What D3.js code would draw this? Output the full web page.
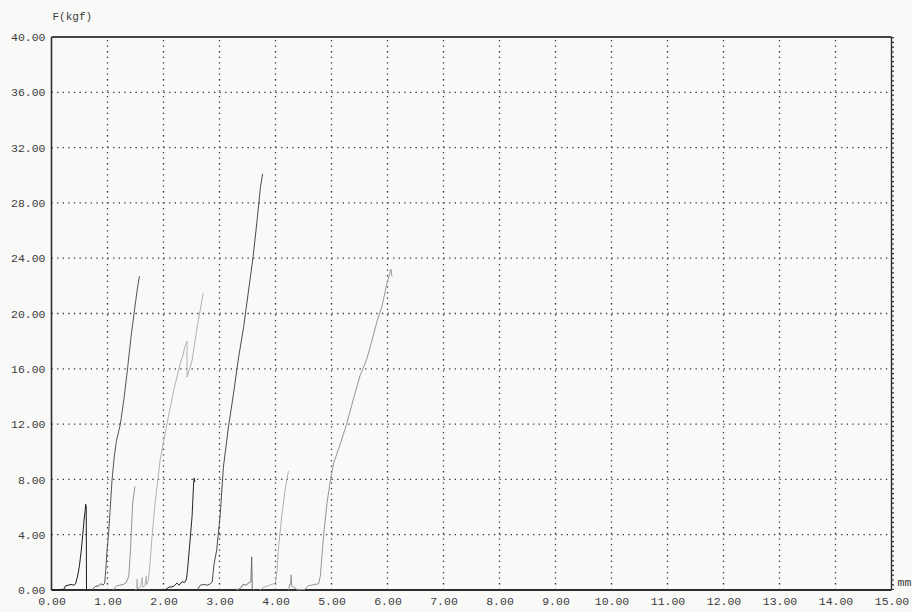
<!DOCTYPE html>
<html>
<head>
<meta charset="utf-8">
<script src="https://cdn.jsdelivr.net/npm/d3@7"></script>
<style>
  html, body { margin: 0; padding: 0; background: #f9f9f8; }
  svg { display: block; }
  text { font-family: "Liberation Mono", "DejaVu Sans Mono", monospace; fill: #3c3c3c; }
</style>
</head>
<body>
<svg id="chart" width="912" height="612"></svg>
<script>
// ---- data ----
const xTicks = [0,1,2,3,4,5,6,7,8,9,10,11,12,13,14,15];
const yTicks = [0,4,8,12,16,20,24,28,32,36,40];
const yLabel = "F(kgf)";
const xLabel = "mm";

const spec1 = [[0.00,0],[0.22,0.05],[0.25,0.3],[0.30,0.35],[0.35,0.4],[0.40,0.35],[0.43,0.45],[0.46,0.9],[0.48,1.3],[0.50,1.8],[0.53,2.8],[0.56,4.1],[0.58,5.0],[0.60,5.7],[0.61,6.2],[0.62,6.0],[0.625,0]];
const spec2 = [[0.72,0],[0.78,0.25],[0.84,0.3],[0.88,0.45],[0.92,0.35],[0.95,0.5],[0.97,1.5],[0.99,2.8],[1.02,4.1],[1.05,6.0],[1.08,7.9],[1.12,9.6],[1.16,10.8],[1.23,12.0],[1.30,14.0],[1.36,16.1],[1.42,18.3],[1.49,20.5],[1.53,21.7],[1.57,22.7]];
const spec3 = [[1.10,0],[1.16,0.3],[1.22,0.35],[1.28,0.4],[1.33,0.5],[1.38,1.0],[1.41,2.9],[1.45,6.3],[1.49,7.5]];
const spec4 = [[1.50,0],[1.52,0.1],[1.53,0.8],[1.54,0.1],[1.59,0.2],[1.62,0.9],[1.63,0.2],[1.67,0.3],[1.69,1.0],[1.70,0.4],[1.73,0.7],[1.76,2.0],[1.79,3.6],[1.85,6.3],[1.94,9.4],[2.06,12.0],[2.18,14.4],[2.30,16.4],[2.35,17.0],[2.38,17.6],[2.42,18.0],[2.42,15.4],[2.46,15.9],[2.51,16.6],[2.60,19.0],[2.71,21.5]];
const spec5 = [[2.02,0],[2.10,0.2],[2.18,0.25],[2.24,0.5],[2.28,0.35],[2.33,0.6],[2.38,0.55],[2.41,0.8],[2.43,1.5],[2.46,2.9],[2.51,5.3],[2.54,7.9],[2.55,8.1],[2.56,7.8]];
const spec6 = [[2.60,0],[2.66,0.35],[2.72,0.4],[2.78,0.35],[2.84,0.45],[2.87,0.6],[2.90,1.8],[2.95,2.9],[3.01,5.3],[3.07,8.9],[3.16,11.8],[3.25,14.2],[3.34,16.8],[3.43,19.0],[3.52,21.7],[3.60,24.1],[3.67,26.7],[3.73,29.1],[3.77,30.1]];
const spec7 = [[3.30,0],[3.37,0.1],[3.42,0.4],[3.47,0.35],[3.52,0.5],[3.56,0.6],[3.575,2.4],[3.585,0.1],[3.62,0]];
const spec8 = [[3.72,0],[3.79,0.2],[3.86,0.3],[3.92,0.4],[3.97,0.45],[4.00,0.5],[4.03,1.5],[4.05,2.9],[4.11,5.3],[4.17,7.2],[4.23,8.6]];
const spec9 = [[4.24,0],[4.25,0.4],[4.27,0.4],[4.28,1.1],[4.29,0.3],[4.40,0],[4.53,0.05],[4.58,0.3],[4.64,0.35],[4.70,0.4],[4.77,0.45],[4.80,1.0],[4.86,4.0],[4.92,6.3],[4.99,8.2],[5.04,9.2],[5.16,10.6],[5.27,12.0],[5.39,13.8],[5.51,15.5],[5.63,16.7],[5.72,18.0],[5.81,19.4],[5.90,20.5],[5.98,22.0],[6.04,22.9],[6.06,23.2],[6.08,22.7]];
const specimens = [spec1, spec2, spec3, spec4, spec5, spec6, spec7, spec8, spec9];
const specColors = ["#1a1a1a","#555555","#939393","#b2b2b2","#262626","#4a4a4a","#707070","#afafaf","#969696"];

// ---- drawing ----
const svg = d3.select("#chart");
const x = d3.scaleLinear().domain([0, 15]).range([51.5, 891.5]);
const y = d3.scaleLinear().domain([0, 40]).range([590, 37]);

// grid
const grid = svg.append("g");
grid.selectAll("line.v").data(xTicks.slice(1, -1)).join("line")
  .attr("x1", d => x(d)).attr("x2", d => x(d))
  .attr("y1", y(0)).attr("y2", y(40))
  .attr("stroke", "#333").attr("stroke-width", 1.3)
  .attr("stroke-dasharray", "1.3,4.3");
grid.selectAll("line.h").data(yTicks.slice(1, -1)).join("line")
  .attr("x1", x(0)).attr("x2", x(15))
  .attr("y1", d => y(d)).attr("y2", d => y(d))
  .attr("stroke", "#333").attr("stroke-width", 1.3)
  .attr("stroke-dasharray", "1.3,4.3");
// right side tick dots
grid.append("line")
  .attr("x1", x(15) + 1.5).attr("x2", x(15) + 1.5)
  .attr("y1", y(40)).attr("y2", y(0))
  .attr("stroke", "#333").attr("stroke-width", 2)
  .attr("stroke-dasharray", "1.2,3.6");

// frame
const frame = svg.append("g").attr("fill", "none").attr("stroke", "#2e2e2e");
frame.append("line").attr("x1", x(0)).attr("x2", x(15)).attr("y1", y(40)).attr("y2", y(40)).attr("stroke-width", 1.8).attr("stroke", "#444");
frame.append("line").attr("x1", x(0)).attr("x2", x(0)).attr("y1", y(40)).attr("y2", y(0)).attr("stroke-width", 1.6);
frame.append("line").attr("x1", x(15)).attr("x2", x(15)).attr("y1", y(40)).attr("y2", y(0)).attr("stroke-width", 1.4);
frame.append("line").attr("x1", x(0)).attr("x2", x(15)).attr("y1", y(0)).attr("y2", y(0)).attr("stroke-width", 1.8);

// curves
const line = d3.line().x(d => x(d[0])).y(d => y(d[1]));
svg.append("g").selectAll("path").data(specimens).join("path")
  .attr("d", line)
  .attr("fill", "none")
  .attr("stroke", (d, i) => specColors[i])
  .attr("stroke-width", 1)
  .attr("stroke-linejoin", "round");

// axes
const fmt = d3.format(".2f");
const xAxis = svg.append("g").attr("transform", `translate(0,${y(0)})`)
  .call(d3.axisBottom(x).tickValues(xTicks).tickFormat(fmt).tickSize(0).tickPadding(7));
const yAxis = svg.append("g").attr("transform", `translate(${x(0)},0)`)
  .call(d3.axisLeft(y).tickValues(yTicks).tickFormat(fmt).tickSize(0).tickPadding(6));
[xAxis, yAxis].forEach(a => {
  a.select(".domain").remove();
  a.selectAll("text").attr("font-family", "Liberation Mono, monospace").attr("font-size", 11.5).attr("fill", "#3c3c3c");
});

svg.append("text").attr("x", x(0) + 1).attr("y", 20)
  .attr("font-size", 11).text(yLabel);
svg.append("text").attr("x", x(15) + 6).attr("y", 586)
  .attr("font-size", 11.5).text(xLabel);
</script>
</body>
</html>
